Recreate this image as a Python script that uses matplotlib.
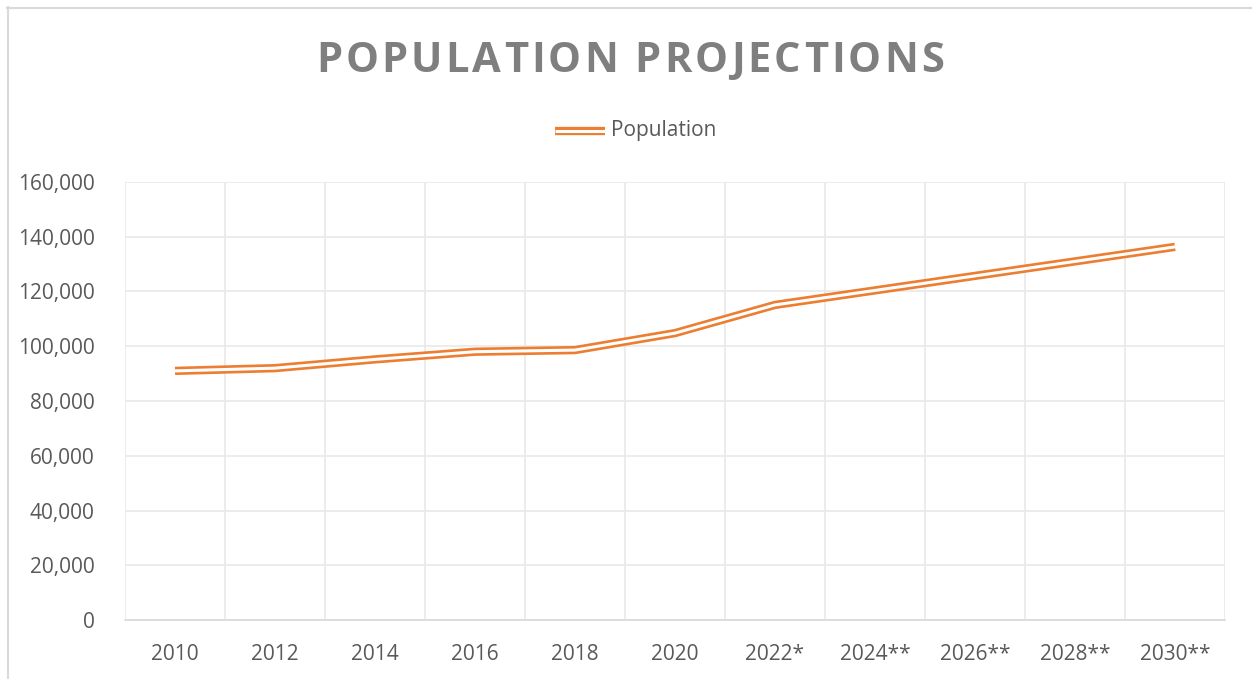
import matplotlib
matplotlib.use("Agg")
import matplotlib.pyplot as plt
from matplotlib.lines import Line2D
from matplotlib.ticker import FuncFormatter, MultipleLocator, FixedLocator

categories = ["2010", "2012", "2014", "2016", "2018", "2020", "2022*", "2024**", "2026**", "2028**", "2030**"]
population = [91000, 92000, 95200, 98000, 98600, 104800, 115100, 120400, 125700, 131000, 136300]
title = "POPULATION PROJECTIONS"
series_name = "Population"

W, H = 1252, 679
fig = plt.figure(figsize=(W / 100, H / 100), dpi=100)
plt.rcParams['font.family'] = ['Open Sans', 'DejaVu Sans']

orange = "#ED7D31"
text_gray = "#595959"
grid_gray = "#E9E9E9"
OUTER, INNER = 6.0, 2.2

ax = fig.add_axes([125 / W, 1 - 620 / H, 1100 / W, 438 / H])
x = list(range(len(categories)))
ax.plot(x, population, color=orange, lw=OUTER, solid_joinstyle='miter', solid_capstyle='butt', zorder=3)
ax.plot(x, population, color="white", lw=INNER, solid_joinstyle='miter', solid_capstyle='butt', zorder=4)

ax.set_xlim(-0.5, len(categories) - 0.5)
ax.set_ylim(0, 160000)
ax.yaxis.set_major_locator(MultipleLocator(20000))
ax.yaxis.set_major_formatter(FuncFormatter(lambda v, p: f"{int(v):,}"))
ax.set_xticks(x)
ax.set_xticklabels(categories)
ax.xaxis.set_minor_locator(FixedLocator([i - 0.5 for i in range(len(categories) + 1)]))
ax.grid(axis='y', which='major', color=grid_gray, lw=1.2)
ax.grid(axis='x', which='minor', color=grid_gray, lw=1.2)
ax.set_axisbelow(True)
for s in ['top', 'right', 'left']:
    ax.spines[s].set_visible(False)
ax.spines['bottom'].set_color("#D9D9D9")
ax.spines['bottom'].set_linewidth(1.2)
ax.tick_params(axis='both', which='both', length=0, labelsize=15, labelcolor=text_gray)
ax.tick_params(axis='y', pad=22)
ax.tick_params(axis='x', pad=17)

# legend (manual, drawn from the series name)
ly = 1 - 130.5 / H
fig.add_artist(Line2D([555 / W, 605 / W], [ly] * 2, color=orange, lw=OUTER,
                      solid_capstyle='butt', transform=fig.transFigure))
fig.add_artist(Line2D([555 / W, 605 / W], [ly] * 2, color="white", lw=INNER,
                      solid_capstyle='butt', transform=fig.transFigure))
fig.text(611 / W, ly, series_name, fontsize=15, color=text_gray, ha='left', va='center')

# title with letter spacing
fig.canvas.draw()
renderer = fig.canvas.get_renderer()
tfs = 30
widths = []
for ch in title:
    t = fig.text(0, 0, ch if ch != " " else "N", fontsize=tfs, fontweight='bold')
    bb = t.get_window_extent(renderer)
    widths.append(bb.width if ch != " " else bb.width * 0.3)
    t.remove()
target_left, target_right = 316, 944
extra = (target_right - target_left - sum(widths)) / (len(title) - 1)
cx = target_left
for ch, w in zip(title, widths):
    if ch != " ":
        fig.text(cx / W, 1 - 62 / H, ch, fontsize=tfs, fontweight='bold', color="#7F7F7F",
                 ha='left', va='center')
    cx += w + extra

# chart border
fig.add_artist(Line2D([7 / W, 1.0], [1 - 7.5 / H] * 2, color="#D9D9D9", lw=1.5, transform=fig.transFigure))
fig.add_artist(Line2D([7.5 / W] * 2, [0, 1 - 7 / H], color="#D9D9D9", lw=1.5, transform=fig.transFigure))

fig.savefig("out.png", dpi=100)
